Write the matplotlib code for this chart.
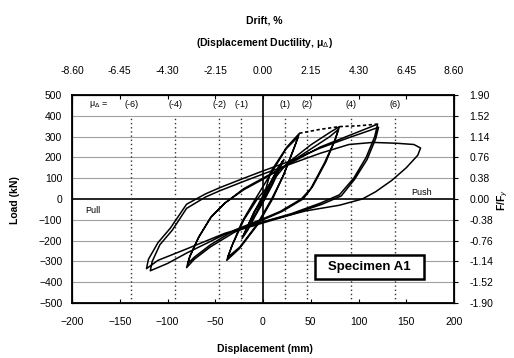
import numpy as np
import matplotlib.pyplot as plt
from matplotlib.patches import Rectangle

plt.rcParams['font.family'] = ['Liberation Sans', 'DejaVu Sans']

# ductility marks (mm) and their labels
mu_disp = [-138, -92, -46, -23, 23, 46, 92, 138]
mu_text = ['(-6)', '(-4)', '(-2)', '(-1)', '(1)', '(2)', '(4)', '(6)']

# axis tick labels
x_ticks = [-200, -150, -100, -50, 0, 50, 100, 150, 200]
drift_labels = ['-8.60', '-6.45', '-4.30', '-2.15', '0.00', '2.15', '4.30', '6.45', '8.60']
y_ticks = [-500, -400, -300, -200, -100, 0, 100, 200, 300, 400, 500]
ffy_labels = ['-1.90', '-1.52', '-1.14', '-0.76', '-0.38', '0.00',
              '0.38', '0.76', '1.14', '1.52', '1.90']

# hysteresis loops (displacement mm, load kN)
mu1_disp = [0, 8, 16, 22, 18, 10, 2, -8, -16, -22, -18, -10, -2, 8, 16, 21, 17, 9, 1, -9, -17, -21, -17, -9, 0]
mu1_load = [0, 80, 150, 190, 150, 70, 0, -80, -150, -190, -150, -70, 0, 80, 150, 185, 145, 70, 0, -80, -150, -180, -140, -60, 0]

mu2_disp = [0, 8, 25, 38, 33, 22, 10, -5, -25, -38, -33, -22, -8, 8, 24, 37, 32, 21, 9, -6, -24, -37, -32, -20, -6]
mu2_load = [0, 130, 250, 315, 250, 120, 0, -120, -240, -295, -230, -110, 0, 120, 240, 300, 240, 110, 0, -120, -230, -280, -220, -100, 0]

mu4_disp = [-6, 25, 50, 70, 80, 76, 66, 52, 42, 20, 0, -30, -55, -72, -80,
            -77, -68, -55, -40, -20, 0, 25, 50, 70, 79, 75, 64, 50, 40, 18, 0, -30, -55, -72, -79,
            -76, -67, -54, -40, -20, 0]
mu4_load = [0, 170, 260, 320, 348, 290, 180, 60, 0, -60, -100, -160, -230, -290, -330,
            -280, -190, -90, -20, 50, 100, 165, 240, 300, 335, 280, 170, 50, 0, -60, -95, -150, -220, -280, -312,
            -270, -180, -85, -20, 45, 95]

mu6_disp = [0, 30, 60, 90, 112, 120, 117, 108, 95, 80, 60, 30, 0, -40, -80, -110, -122,
            -120, -110, -97, -80, -60, -45, -20, 0, 30, 60, 90, 112, 121, 118, 109, 96, 82, 62, 30, 0, -40, -80, -100, -118,
            -116, -108, -95, -80, -60, -45, -20, 0]
mu6_load = [95, 175, 250, 305, 345, 360, 300, 200, 100, 20, -20, -70, -110, -165, -240, -295, -335,
            -290, -210, -140, -25, 25, 55, 100, 135, 185, 245, 295, 330, 345, 290, 190, 95, 15, -25, -75, -115, -170, -260, -310, -345,
            -300, -220, -150, -45, 10, 40, 85, 120]

push_disp = [0, 30, 60, 90, 115, 140, 158, 165, 162, 150, 135, 118, 104, 80, 45, 0, -11]
push_load = [120, 170, 220, 262, 272, 268, 262, 245, 210, 150, 90, 35, 0, -30, -57, -110, -129]

# dashed peak envelope on the push side
env_disp = [38, 60, 80, 100, 120]
env_load = [316, 335, 348, 352, 360]

fig = plt.figure(figsize=(5.14, 3.58), dpi=100)
ax = fig.add_axes([72 / 514, 1 - 303 / 358, 382 / 514, 208 / 358])

ax.set_xlim(-200, 200)
ax.set_ylim(-500, 500)

for y in [-400, -300, -200, -100, 100, 200, 300, 400]:
    ax.axhline(y, color='#a0a0a0', lw=0.8, zorder=1)
ax.axhline(0, color='black', lw=1.2, zorder=2)
ax.axvline(0, color='black', lw=1.2, zorder=2)

for d, t in zip(mu_disp, mu_text):
    ax.plot([d, d], [-500, 400], color='#333333', lw=1.0, ls=(0, (1, 2)), zorder=2)
    ax.text(d, 452, t, ha='center', va='center', fontsize=6.5)
ax.text(-172, 452, '\u03bc$_\\Delta$ =', ha='center', va='center', fontsize=6.5)

for xs, ys in [(mu1_disp, mu1_load), (mu2_disp, mu2_load), (mu4_disp, mu4_load),
               (mu6_disp, mu6_load), (push_disp, push_load)]:
    ax.plot(xs, ys, color='black', lw=1.1, zorder=3)
ax.plot(env_disp, env_load, color='black', lw=1.2, ls=(0, (2, 1.5)), zorder=3)

ax.text(-186, -57, 'Pull', fontsize=6.5, va='center')
ax.text(155, 30, 'Push', fontsize=6.5, va='center')

ax.add_patch(Rectangle((54, -383), 115, 115, facecolor='white', edgecolor='black', lw=1.8, zorder=4))
ax.text(111, -325, 'Specimen A1', ha='center', va='center', fontsize=9.5, fontweight='bold', zorder=5)

ax.set_xticks(x_ticks)
ax.set_yticks(y_ticks)
ax.tick_params(axis='x', labelsize=7.5, pad=10, length=3, direction='in')
ax.tick_params(axis='y', labelsize=7.5, pad=7, length=0)
for s in ax.spines.values():
    s.set_linewidth(1.3)

top = ax.twiny()
top.set_xlim(-200, 200)
top.set_xticks(x_ticks)
top.set_xticklabels(drift_labels)
top.tick_params(axis='x', labelsize=7.5, pad=14, length=3, direction='in')

right = ax.twinx()
right.set_ylim(-500, 500)
right.set_yticks(y_ticks)
right.set_yticklabels(ffy_labels)
right.tick_params(axis='y', labelsize=7.5, pad=8, length=3)

fig.text(0.515, 0.944, 'Drift, %', ha='center', va='center', fontsize=7.5, fontweight='bold')
fig.text(0.515, 0.880, '(Displacement Ductility, \u03bc$_\\Delta$)', ha='center', va='center',
         fontsize=7.5, fontweight='bold')
fig.text(0.515, 0.025, 'Displacement (mm)', ha='center', va='center', fontsize=7.5, fontweight='bold')
fig.text(0.03, 0.44, 'Load (kN)', ha='center', va='center', rotation=90, fontsize=7.5, fontweight='bold')
fig.text(0.978, 0.44, 'F/F$_y$', ha='center', va='center', rotation=90, fontsize=7.5, fontweight='bold')

fig.savefig('out.png', dpi=100)
